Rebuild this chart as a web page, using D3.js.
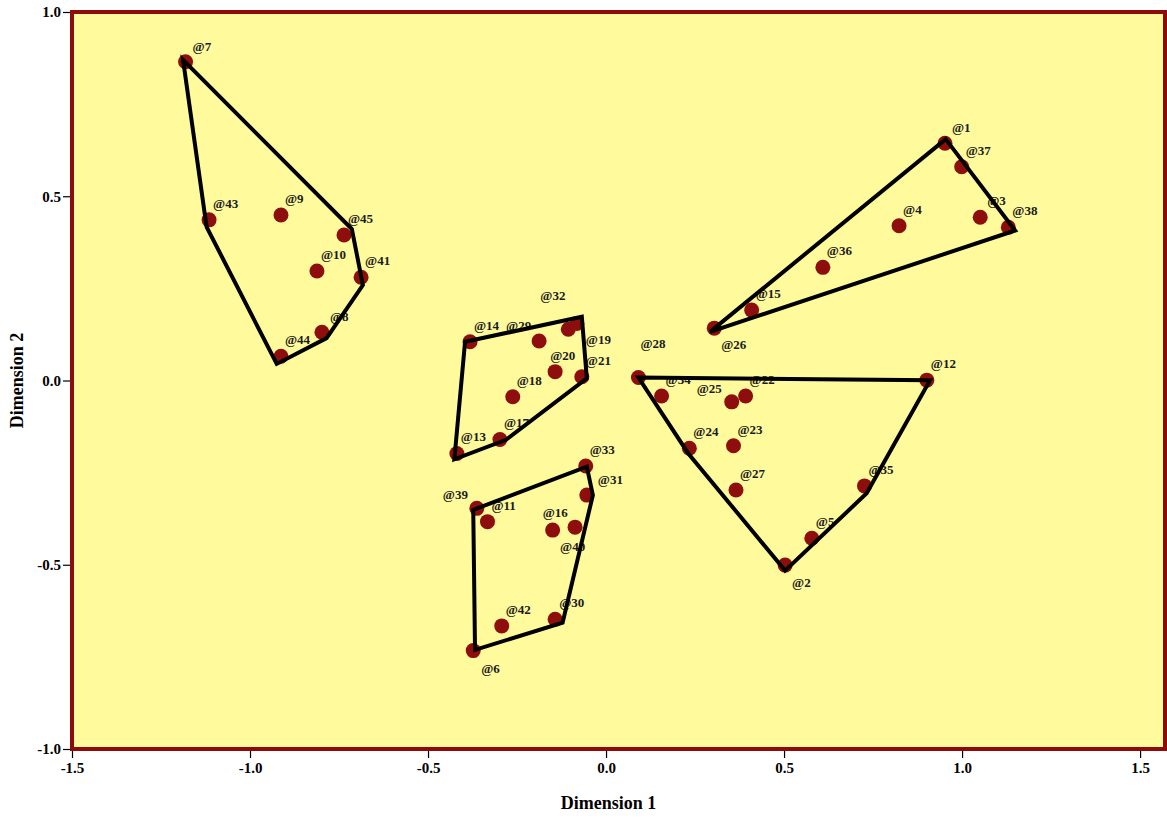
<!DOCTYPE html>
<html>
<head>
<meta charset="utf-8">
<script src="https://cdn.jsdelivr.net/npm/d3@7"></script>
<style>
  html, body { margin: 0; padding: 0; background: #ffffff; }
  svg { display: block; }
</style>
</head>
<body>
<svg id="chart" width="1167" height="818"></svg>
<script>
// ---------- data ----------
const pointIds = [7, 43, 9, 45, 10, 41, 8, 44,
                  14, 29, 32, 19, 20, 21, 18, 17, 13,
                  33, 31, 39, 11, 16, 40, 42, 30, 6,
                  28, 34, 25, 22, 24, 23, 27, 35, 5, 2, 12,
                  1, 37, 3, 38, 4, 36, 15, 26];
const dim1 = [-1.181, -1.115, -0.913, -0.736, -0.812, -0.688, -0.798, -0.913,
              -0.382, -0.188, -0.106, -0.082, -0.143, -0.068, -0.262, -0.298, -0.419,
              -0.057, -0.054, -0.363, -0.333, -0.150, -0.087, -0.293, -0.143, -0.373,
              0.091, 0.156, 0.353, 0.392, 0.234, 0.358, 0.365, 0.726, 0.578, 0.503, 0.901,
              0.952, 0.999, 1.051, 1.130, 0.823, 0.609, 0.409, 0.304];
const dim2 = [0.865, 0.436, 0.449, 0.395, 0.297, 0.280, 0.131, 0.066,
              0.105, 0.107, 0.139, 0.155, 0.024, 0.010, -0.044, -0.160, -0.198,
              -0.232, -0.311, -0.347, -0.383, -0.406, -0.398, -0.666, -0.648, -0.733,
              0.008, -0.042, -0.058, -0.042, -0.184, -0.177, -0.297, -0.286, -0.428, -0.501, 0.001,
              0.644, 0.580, 0.443, 0.416, 0.420, 0.307, 0.191, 0.142];

// convex hull outlines (Dimension 1, Dimension 2 of each vertex)
const hullLeftX   = [-1.188, -0.714, -0.683, -0.785, -0.925, -1.122];
const hullLeftY   = [0.870, 0.411, 0.259, 0.115, 0.045, 0.417];
const hullMidUpX  = [-0.396, -0.068, -0.054, -0.281, -0.426];
const hullMidUpY  = [0.105, 0.173, 0.006, -0.161, -0.214];
const hullMidLoX  = [-0.373, -0.054, -0.037, -0.122, -0.368];
const hullMidLoY  = [-0.351, -0.234, -0.311, -0.657, -0.731];
const hullTriX    = [0.091, 0.910, 0.732, 0.503, 0.231];
const hullTriY    = [0.008, 0.001, -0.306, -0.516, -0.198];
const hullWedgeX  = [0.954, 1.149, 0.292];
const hullWedgeY  = [0.655, 0.407, 0.132];

const xTicks = [-1.5, -1.0, -0.5, 0.0, 0.5, 1.0, 1.5];
const yTicks = [-1.0, -0.5, 0.0, 0.5, 1.0];
const xTitle = "Dimension 1";
const yTitle = "Dimension 2";

// ---------- layout / style ----------
const plot = { left: 72, right: 1165, top: 12, bottom: 749 };
const defaultLabelOffset = [4, -12];
const labelOffsets = {
  7: [7, -11], 29: [-33, -11], 32: [-28, -29], 19: [9, 21], 20: [-5, -12],
  31: [11, -11], 39: [-34, -9], 16: [-10, -13], 40: [-15, 24], 6: [8, 22],
  28: [2, -30], 26: [7, 21], 25: [-35, -9], 2: [7, 22], 8: [8, -11],
  1: [7, -11], 3: [7, -12]
};

const svg = d3.select("#chart");
const x = d3.scaleLinear().domain([-1.5, 1.57]).range([plot.left, plot.right]);
const y = d3.scaleLinear().domain([-1, 1]).range([plot.bottom, plot.top]);

// background
svg.append("rect")
  .attr("x", plot.left).attr("y", plot.top)
  .attr("width", plot.right - plot.left).attr("height", plot.bottom - plot.top)
  .attr("fill", "#fffa9c");

// axes
const fmt = d => d.toFixed(1);
const xAxis = svg.append("g")
  .attr("transform", `translate(0,${plot.bottom})`)
  .call(d3.axisBottom(x).tickValues(xTicks).tickFormat(fmt).tickSize(9).tickPadding(4));
const yAxis = svg.append("g")
  .attr("transform", `translate(${plot.left},0)`)
  .call(d3.axisLeft(y).tickValues(yTicks).tickFormat(fmt).tickSize(9).tickPadding(2));
[xAxis, yAxis].forEach(g => {
  g.select(".domain").remove();
  g.selectAll(".tick line").attr("stroke", "#000").attr("stroke-width", 1.2);
  g.selectAll(".tick text")
    .attr("fill", "#000")
    .style("font-family", "'Liberation Serif', 'Times New Roman', serif")
    .style("font-weight", "bold")
    .style("font-size", "15px");
});

// axis titles
svg.append("text")
  .attr("x", (plot.left + plot.right) / 2 - 10).attr("y", 809)
  .attr("text-anchor", "middle")
  .style("font-family", "'Liberation Serif', 'Times New Roman', serif")
  .style("font-weight", "bold").style("font-size", "18px")
  .text(xTitle);
svg.append("text")
  .attr("transform", `translate(23,${y(0)}) rotate(-90)`)
  .attr("text-anchor", "middle")
  .style("font-family", "'Liberation Serif', 'Times New Roman', serif")
  .style("font-weight", "bold").style("font-size", "18px")
  .text(yTitle);

// points
const pts = pointIds.map((id, i) => ({ id, d1: dim1[i], d2: dim2[i] }));
const clip = svg.append("clipPath").attr("id", "plotClip")
  .append("rect")
  .attr("x", plot.left).attr("y", plot.top)
  .attr("width", plot.right - plot.left).attr("height", plot.bottom - plot.top);

const gPlot = svg.append("g").attr("clip-path", "url(#plotClip)");

gPlot.selectAll("circle.pt").data(pts).join("circle")
  .attr("class", "pt")
  .attr("cx", d => x(d.d1)).attr("cy", d => y(d.d2))
  .attr("r", 7.5)
  .attr("fill", "#8e0d0d");

gPlot.selectAll("text.lbl").data(pts).join("text")
  .attr("class", "lbl")
  .attr("x", d => x(d.d1) + (labelOffsets[d.id] || defaultLabelOffset)[0])
  .attr("y", d => y(d.d2) + (labelOffsets[d.id] || defaultLabelOffset)[1])
  .style("font-family", "'Liberation Serif', 'Times New Roman', serif")
  .style("font-weight", "bold").style("font-size", "13px")
  .attr("fill", "#1a1a1a")
  .text(d => "@" + d.id);

// hulls
const hulls = [
  [hullLeftX, hullLeftY], [hullMidUpX, hullMidUpY], [hullMidLoX, hullMidLoY],
  [hullTriX, hullTriY], [hullWedgeX, hullWedgeY]
].map(([hx, hy]) => hx.map((v, i) => [v, hy[i]]));
const line = d3.line().x(d => x(d[0])).y(d => y(d[1])).curve(d3.curveLinearClosed);
gPlot.selectAll("path.hull").data(hulls).join("path")
  .attr("class", "hull")
  .attr("d", line)
  .attr("fill", "none")
  .attr("stroke", "#000")
  .attr("stroke-width", 4)
  .attr("stroke-linejoin", "miter");

// border
svg.append("rect")
  .attr("x", plot.left).attr("y", plot.top)
  .attr("width", plot.right - plot.left).attr("height", plot.bottom - plot.top)
  .attr("fill", "none")
  .attr("stroke", "#8e0b0b")
  .attr("stroke-width", 4);
</script>
</body>
</html>
